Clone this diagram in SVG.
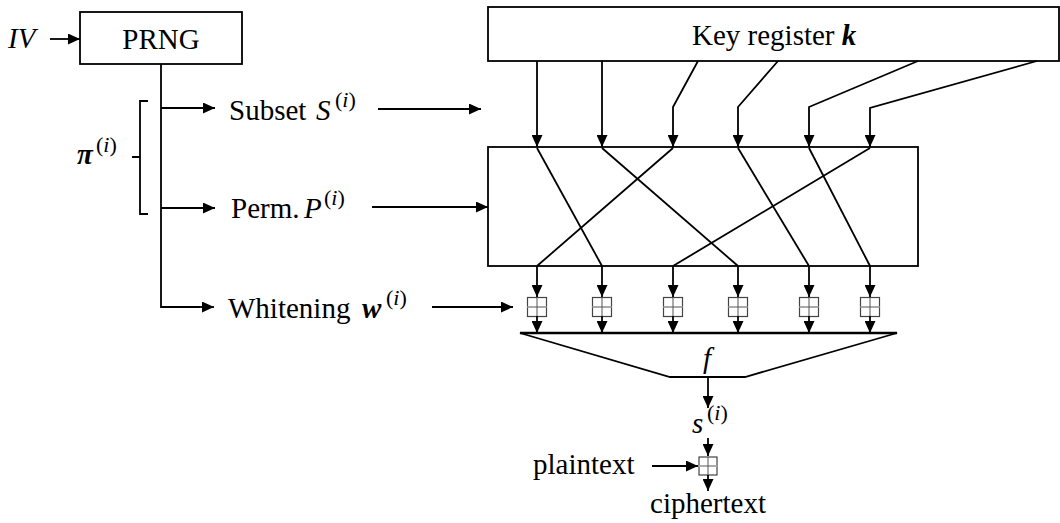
<svg xmlns="http://www.w3.org/2000/svg" width="1060" height="523" viewBox="0 0 1060 523">
<defs>
<marker id="ah" markerUnits="userSpaceOnUse" markerWidth="13" markerHeight="11" refX="12" refY="5.5" orient="auto">
<path d="M0,0 L12,5.5 L0,11 z" fill="#000"/>
</marker>
<style>
.t{font-family:"Liberation Serif","Times New Roman",serif;font-size:29px;fill:#000}
.m{font-family:"Liberation Serif","Times New Roman",serif;font-style:italic;font-size:29px;fill:#000}
.bm{font-family:"Liberation Serif","Times New Roman",serif;font-style:italic;font-weight:bold;font-size:29px;fill:#000}
.sup{font-family:"Liberation Serif","Times New Roman",serif;font-size:22px;fill:#000}
.box{fill:#fff;stroke:#000;stroke-width:1.8}
.ln{fill:none;stroke:#000;stroke-width:1.8}
.ar{fill:none;stroke:#000;stroke-width:1.8;marker-end:url(#ah)}
.xo{fill:#fff;stroke:#444;stroke-width:1.2}
.xv{stroke:#555;stroke-width:1}
.xh{stroke:#aaa;stroke-width:2}
</style>
</defs>

<g id="prng">
<rect class="box" x="80" y="12" width="162" height="52"/>
<text class="t" x="161" y="49" text-anchor="middle" font-size="30">PRNG</text>
</g>

<g id="iv"><text class="m" x="8" y="48">IV</text></g>

<g id="keyreg">
<rect class="box" x="488" y="7" width="571" height="54"/>
<text x="692" y="45"><tspan class="t">Key register </tspan><tspan class="bm">k</tspan></text>
</g>

<g id="perm">
<rect class="box" x="488" y="147" width="430" height="119"/>
</g>

<g id="pi-label">
<text class="bm" x="77" y="164">π</text>
<text class="sup" x="96" y="152">(<tspan font-style="italic">i</tspan>)</text>
<path class="ln" d="M148,101 H140 V214 H148 M140,157 H132"/>
</g>

<g id="subset-label">
<text class="t" x="229" y="120">Subset</text>
<text class="m" x="316" y="120">S</text>
<text class="sup" x="335" y="107">(<tspan font-style="italic">i</tspan>)</text>
</g>

<g id="perm-label">
<text class="t" x="231" y="218">Perm.</text>
<text class="m" x="304" y="218">P</text>
<text class="sup" x="324" y="205">(<tspan font-style="italic">i</tspan>)</text>
</g>

<g id="whitening-label">
<text class="t" x="228" y="318">Whitening</text>
<text class="bm" x="362" y="318">w</text>
<text class="sup" x="386" y="305">(<tspan font-style="italic">i</tspan>)</text>
</g>

<g id="xors">
<g id="xor1"><rect class="xo" x="527.5" y="297.5" width="19" height="19"/><line class="xh" x1="527.5" y1="307" x2="546.5" y2="307"/><line class="xv" x1="537" y1="297.5" x2="537" y2="316.5"/></g>
<g id="xor2"><rect class="xo" x="592.5" y="297.5" width="19" height="19"/><line class="xh" x1="592.5" y1="307" x2="611.5" y2="307"/><line class="xv" x1="602" y1="297.5" x2="602" y2="316.5"/></g>
<g id="xor3"><rect class="xo" x="663.5" y="297.5" width="19" height="19"/><line class="xh" x1="663.5" y1="307" x2="682.5" y2="307"/><line class="xv" x1="673" y1="297.5" x2="673" y2="316.5"/></g>
<g id="xor4"><rect class="xo" x="728.5" y="297.5" width="19" height="19"/><line class="xh" x1="728.5" y1="307" x2="747.5" y2="307"/><line class="xv" x1="738" y1="297.5" x2="738" y2="316.5"/></g>
<g id="xor5"><rect class="xo" x="799.5" y="297.5" width="19" height="19"/><line class="xh" x1="799.5" y1="307" x2="818.5" y2="307"/><line class="xv" x1="809" y1="297.5" x2="809" y2="316.5"/></g>
<g id="xor6"><rect class="xo" x="860.5" y="297.5" width="19" height="19"/><line class="xh" x1="860.5" y1="307" x2="879.5" y2="307"/><line class="xv" x1="870" y1="297.5" x2="870" y2="316.5"/></g>
</g>

<g id="f">
<polygon class="box" points="520,333 897,333 745,377 670,377"/>
<line x1="520" y1="333" x2="897" y2="333" stroke="#000" stroke-width="2.5"/>
<text class="m" x="707" y="368" text-anchor="middle">f</text>
</g>

<g id="s-label">
<text class="m" x="692" y="433" font-size="31">s</text>
<text class="sup" x="707" y="420">(<tspan font-style="italic">i</tspan>)</text>
</g>

<g id="xor-final"><rect class="xo" x="699" y="457" width="18" height="18"/><line class="xh" x1="699" y1="466" x2="717" y2="466"/><line class="xv" x1="708" y1="457" x2="708" y2="475"/></g>

<g id="plaintext"><text class="t" x="533" y="474">plaintext</text></g>
<g id="ciphertext"><text class="t" x="708" y="513" text-anchor="middle">ciphertext</text></g>

<g id="connectors">
<line class="ar" x1="50" y1="39" x2="80" y2="39"/>
<polyline class="ln" points="161,64 161,307 200,307"/>
<line class="ar" x1="161" y1="108" x2="215" y2="108"/>
<line class="ar" x1="161" y1="208" x2="215" y2="208"/>
<line class="ar" x1="195" y1="307" x2="214" y2="307"/>
<line class="ar" x1="378" y1="109" x2="481" y2="109"/>
<line class="ar" x1="372" y1="207" x2="488" y2="207"/>
<line class="ar" x1="432" y1="307" x2="513" y2="307"/>

<line class="ar" x1="537" y1="61" x2="537" y2="147"/>
<line class="ar" x1="602" y1="61" x2="602" y2="147"/>
<polyline class="ar" points="698,61 673,107 673,147"/>
<polyline class="ar" points="778,61 738,107 738,147"/>
<polyline class="ar" points="918,61 809,107 809,147"/>
<polyline class="ar" points="1037,61 870,108 870,147"/>

<line class="ln" x1="537" y1="148" x2="602" y2="266"/>
<line class="ln" x1="602" y1="148" x2="738" y2="266"/>
<line class="ln" x1="673" y1="148" x2="537" y2="266"/>
<line class="ln" x1="738" y1="148" x2="809" y2="266"/>
<line class="ln" x1="809" y1="148" x2="870" y2="266"/>
<line class="ln" x1="870" y1="148" x2="673" y2="266"/>

<line class="ar" x1="537" y1="266" x2="537" y2="297"/>
<line class="ar" x1="602" y1="266" x2="602" y2="297"/>
<line class="ar" x1="673" y1="266" x2="673" y2="297"/>
<line class="ar" x1="738" y1="266" x2="738" y2="297"/>
<line class="ar" x1="809" y1="266" x2="809" y2="297"/>
<line class="ar" x1="870" y1="266" x2="870" y2="297"/>

<line class="ar" x1="537" y1="316" x2="537" y2="333"/>
<line class="ar" x1="602" y1="316" x2="602" y2="333"/>
<line class="ar" x1="673" y1="316" x2="673" y2="333"/>
<line class="ar" x1="738" y1="316" x2="738" y2="333"/>
<line class="ar" x1="809" y1="316" x2="809" y2="333"/>
<line class="ar" x1="870" y1="316" x2="870" y2="333"/>

<line class="ar" x1="708" y1="377" x2="708" y2="408"/>
<line class="ar" x1="708" y1="438" x2="708" y2="456"/>
<line class="ar" x1="652" y1="466" x2="698" y2="466"/>
<line class="ar" x1="708" y1="475" x2="708" y2="491"/>
</g>
</svg>
